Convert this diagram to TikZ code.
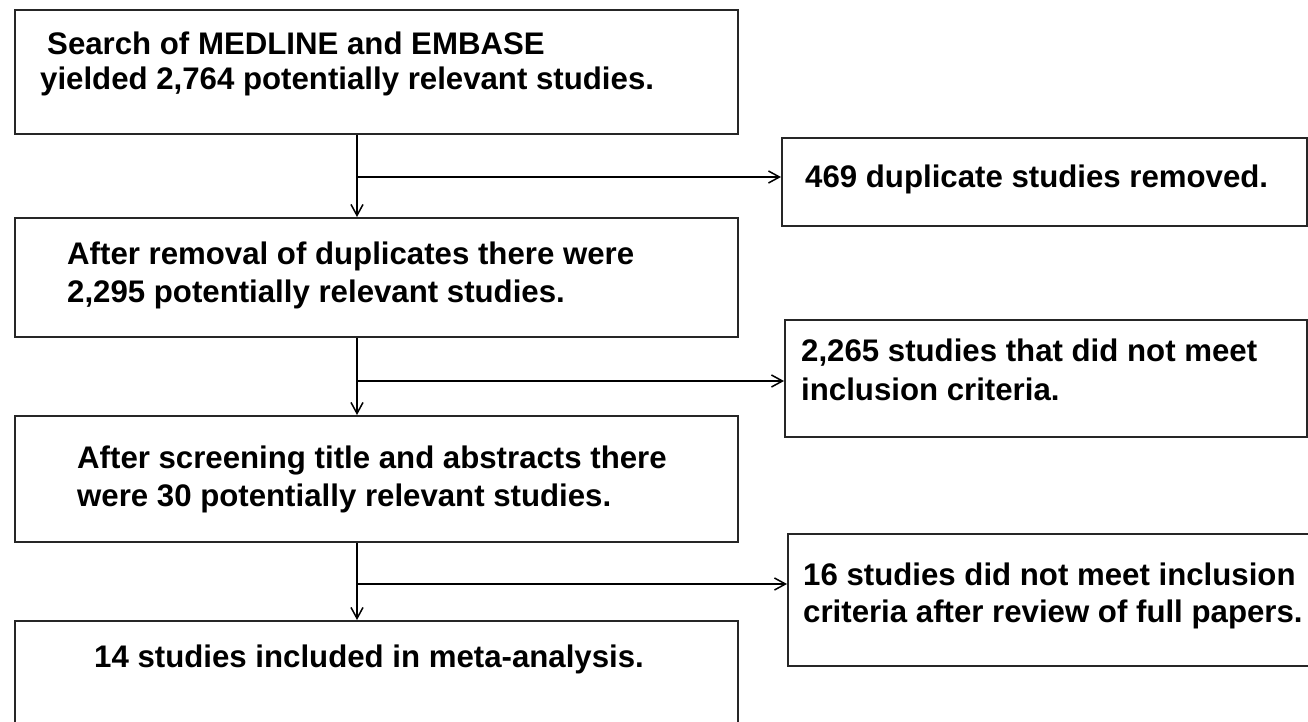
\documentclass[tikz,border=0pt]{standalone}
\usepackage{fontspec}
\setmainfont{Liberation Sans}
\usetikzlibrary{arrows.meta}
\begin{document}
\begin{tikzpicture}[x=1pt,y=-1pt,
  box/.style={draw=black!85, line width=2pt, rectangle, inner sep=0pt, anchor=north west},
  txt/.style={anchor=base west, inner sep=0pt, font=\fontsize{31.2}{37}\selectfont\bfseries},
  conn/.style={line width=1.5pt, -{Straight Barb[length=11pt,width=12pt]}}]
\useasboundingbox (0,0) rectangle (1308,722);
\clip (0,0) rectangle (1308,722);
\fill[white] (0,0) rectangle (1308,722);
% main boxes
\node[box, minimum width=723pt, minimum height=124pt] (b1) at (14,9) {};
\node[box, minimum width=723pt, minimum height=119pt] (b2) at (14,217) {};
\node[box, minimum width=723pt, minimum height=126pt] (b3) at (14,415) {};
\node[box, minimum width=723pt, minimum height=130pt] (b4) at (14,620) {};
% side boxes
\node[box, minimum width=525pt, minimum height=88pt] (r1) at (781,137) {};
\node[box, minimum width=522pt, minimum height=117pt] (r2) at (784,319) {};
\node[box, minimum width=560pt, minimum height=132pt] (r3) at (787,533) {};
% texts
\node[txt] (t1a) at (47,55) {Search of MEDLINE and EMBASE};
\node[txt] (t1b) at (40,90) {yielded 2,764 potentially relevant studies.};
\node[txt] (t2a) at (67,264) {After removal of duplicates there were};
\node[txt] (t2b) at (67,302) {2,295 potentially relevant studies.};
\node[txt] (t3a) at (77,468) {After screening title and abstracts there};
\node[txt] (t3b) at (77,506) {were 30 potentially relevant studies.};
\node[txt] (t4) at (94,667) {14 studies included in meta-analysis.};
\node[txt] (s1) at (805,188) {469 duplicate studies removed.};
\node[txt] (s2a) at (801,361) {2,265 studies that did not meet};
\node[txt] (s2b) at (801,400) {inclusion criteria.};
\node[txt] (s3a) at (803,585) {16 studies did not meet inclusion};
\node[txt] (s3b) at (803,622) {criteria after review of full papers.};
% connectors
\coordinate (trunk) at (357,0);
\coordinate (k1) at (357,177);
\coordinate (k2) at (357,381);
\coordinate (k3) at (357,584);
\draw[conn] (b1.south -| trunk) -- (b2.north -| trunk);
\draw[conn] (b2.south -| trunk) -- (b3.north -| trunk);
\draw[conn] (b3.south -| trunk) -- (b4.north -| trunk);
\draw[conn] (k1) -- (k1 -| r1.west);
\draw[conn] (k2) -- (k2 -| r2.west);
\draw[conn] (k3) -- (k3 -| r3.west);
\end{tikzpicture}
\end{document}
